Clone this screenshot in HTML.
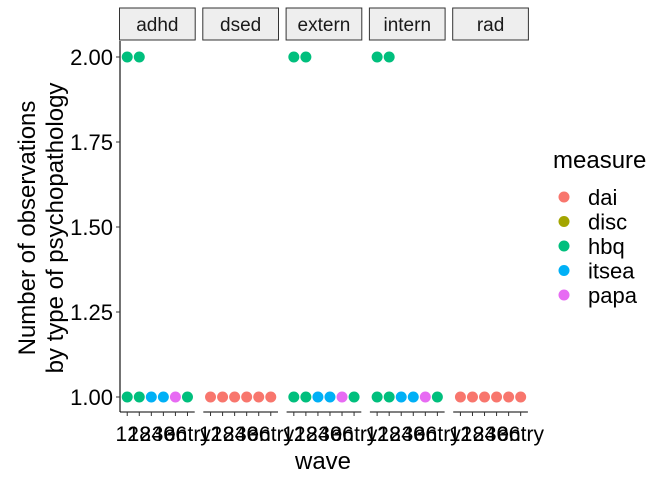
<!DOCTYPE html>
<html><head><meta charset="utf-8"><style>
html,body{margin:0;padding:0;background:#fff;}
svg{display:block;font-family:"Liberation Sans",Arial,sans-serif;}
</style></head><body>
<svg id="chart" width="672" height="480" viewBox="0 0 672 480">
<g id="panels"></g>
<g id="yaxis"></g>
<text transform="translate(35,228) rotate(-90)" text-anchor="middle" font-size="24" fill="#000"><tspan x="0" y="0">Number of observations</tspan><tspan x="0" y="28">by type of psychopathology</tspan></text>
<text x="323" y="469" text-anchor="middle" font-size="24">wave</text>
<g id="legend"></g>
</svg>
<script>
const panels = ["adhd","dsed","extern","intern","rad"];
const waves = ["12","18","24","30","36","entry"];
const measures = ["dai","disc","hbq","itsea","papa"];
const colors = ["#F8766D","#A3A500","#00BF7D","#00B0F6","#E76BF3"];
const adhdMeasure = ["hbq","hbq","itsea","itsea","papa","hbq"];
const adhdValue = [1,1,1,1,1,1];
const adhdHbqExtra = [2,2,null,null,null,null];
const dsedMeasure = ["dai","dai","dai","dai","dai","dai"];
const dsedValue = [1,1,1,1,1,1];
const dsedHbqExtra = [null,null,null,null,null,null];
const externMeasure = ["hbq","hbq","itsea","itsea","papa","hbq"];
const externValue = [1,1,1,1,1,1];
const externHbqExtra = [2,2,null,null,null,null];
const internMeasure = ["hbq","hbq","itsea","itsea","papa","hbq"];
const internValue = [1,1,1,1,1,1];
const internHbqExtra = [2,2,null,null,null,null];
const radMeasure = ["dai","dai","dai","dai","dai","dai"];
const radValue = [1,1,1,1,1,1];
const radHbqExtra = [null,null,null,null,null,null];
const yTicks = [1.00,1.25,1.50,1.75,2.00];

const panelMeasures = [adhdMeasure,dsedMeasure,externMeasure,internMeasure,radMeasure];
const panelValues = [adhdValue,dsedValue,externValue,internValue,radValue];
const panelExtra = [adhdHbqExtra,dsedHbqExtra,externHbqExtra,internHbqExtra,radHbqExtra];
const NS="http://www.w3.org/2000/svg";
function mk(t,a,p){const e=document.createElementNS(NS,t);for(const k in a)e.setAttribute(k,a[k]);p.appendChild(e);return e;}
const plotTop=41, plotBottom=412, pw=74.7, gap=8.6, x0=120;
function yScale(v){return 397-(v-1)*340;}
function px(i){return x0+i*(pw+gap);}
function xw(i,j){const step=pw/(waves.length-1+1.2);return px(i)+step*(0.6+j);}
const gP=document.getElementById('panels');
panels.forEach((p,i)=>{
  const g=mk('g',{},gP);
  
  
  const s=mk('rect',{x:px(i)-0.5,y:8,width:pw+1,height:32,fill:'#eeeeee',stroke:'#333','stroke-width':1},g);
  
  
  const st=mk('text',{x:px(i)+pw/2,y:31,'text-anchor':'middle','font-size':19,fill:'#1a1a1a'},g);
  st.textContent=p;
  
  
  const ax=mk('line',{x1:px(i),x2:px(i)+pw,y1:plotBottom,y2:plotBottom,stroke:'#000','stroke-width':1.1},g);
  
  
  waves.forEach((w,j)=>{
    mk('line',{x1:xw(i,j),x2:xw(i,j),y1:plotBottom,y2:plotBottom+4,stroke:'#333'},g);
    const t=mk('text',{x:xw(i,j),y:441,'text-anchor':'middle','font-size':21,fill:'#000'},g);
    t.textContent=w;
    
    
  });
  waves.forEach((w,j)=>{
    const m=panelMeasures[i][j];
    const c=mk('circle',{cx:xw(i,j),cy:yScale(panelValues[i][j]),r:5.5,fill:colors[measures.indexOf(m)]},g);
    
    
    const ev=panelExtra[i][j];
    if(ev!==null){
      const c2=mk('circle',{cx:xw(i,j),cy:yScale(ev),r:5.5,fill:colors[2]},g);
      
      
    }
  });
});
const gY=document.getElementById('yaxis');
mk('line',{x1:120,x2:120,y1:plotTop,y2:plotBottom,stroke:'#000','stroke-width':1.1},gY);
yTicks.forEach(v=>{
  mk('line',{x1:116,x2:120,y1:yScale(v),y2:yScale(v),stroke:'#333'},gY);
  const t=mk('text',{x:113,y:yScale(v)+8,'text-anchor':'end','font-size':22,fill:'#000'},gY);
  t.textContent=v.toFixed(2);
  
  
});
const gL=document.getElementById('legend');
const lt=mk('text',{x:553,y:168,'font-size':24,fill:'#000'},gL);
lt.textContent='measure';


measures.forEach((m,k)=>{
  const cy=197+k*24.5;
  const g=mk('g',{},gL);
  
  
  mk('circle',{cx:564,cy:cy,r:5.5,fill:colors[k]},g);
  const t=mk('text',{x:588,y:cy+8,'font-size':22,fill:'#000'},g);
  t.textContent=m;
});
</script>
</body></html>
